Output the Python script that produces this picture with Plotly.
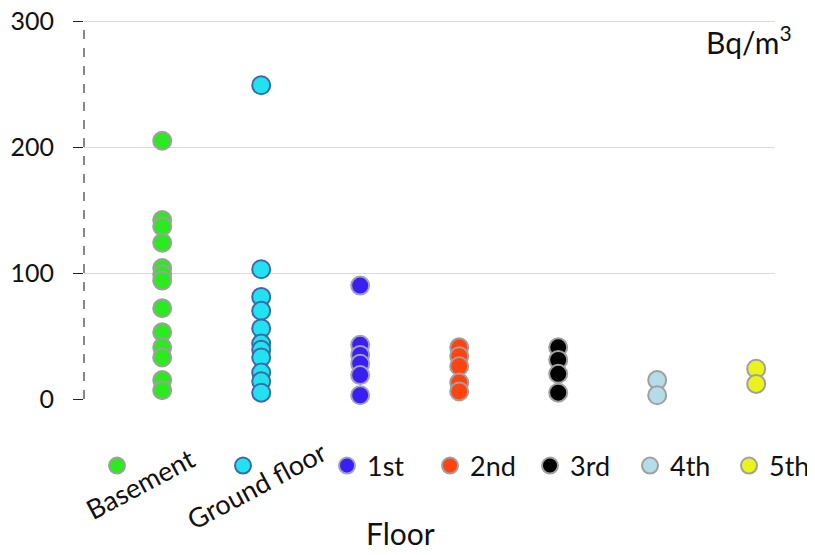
import plotly.graph_objects as go

# ---- data ----
floors = ["Basement", "Ground floor", "1st", "2nd", "3rd", "4th", "5th"]
basement = [205, 142, 137, 124, 104, 99, 94, 72, 53, 41, 33, 15, 7]
ground_floor = [249, 103, 81, 70, 56, 44, 39, 33, 21, 14, 5]
first = [90, 43, 35, 28, 19, 3]
second = [41, 34, 26, 13, 6]
third = [41, 31, 20, 5]
fourth = [15, 3]
fifth = [24, 12]
series = [basement, ground_floor, first, second, third, fourth, fifth]

fill_colors = ["#2bea1f", "#22e2f2", "#3a1ff2", "#ff4411", "#000000", "#b4dde9", "#eaf41a"]
line_colors = ["#a0a0a0", "#3b6aa8", "#a0a0b8", "#a0a0a0", "#a0a0a0", "#a0a0a0", "#a0a0a0"]

y_ticks = [0, 100, 200, 300]
unit_label = "Bq/m<sup>3</sup>"
x_title = "Floor"

FONT = "Lato, Roboto, sans-serif"

# ---- layout geometry (page pixels; the page body has an 8px margin) ----
OFF = 8
W, H = 815 - OFF, 555 - OFF
PLOT_L, PLOT_R, PLOT_T, PLOT_B = 84, 775, 20, 399   # page coords of plot area
ML, MT = PLOT_L - OFF, PLOT_T - OFF
MR, MB = W - (PLOT_R - OFF), H - (PLOT_B - OFF)
PW, PH = PLOT_R - PLOT_L, PLOT_B - PLOT_T

def px_x(px):
    return (px - PLOT_L) / PW

def px_y(py):
    return (PLOT_B - py) / PH

legend_marker_px = [117, 243, 350, 453, 553, 653, 752]
rotated = {"Basement": (140, 483), "Ground floor": (256, 485)}

fig = go.Figure()
layout_legends = {}
for i, (name, vals) in enumerate(zip(floors, series)):
    lname = "legend" if i == 0 else f"legend{i+1}"
    fig.add_trace(go.Scatter(
        x=[name] * len(vals), y=vals, mode="markers",
        name="" if name in rotated else name,
        legend=lname,
        cliponaxis=False,
        marker=dict(size=18, color=fill_colors[i],
                    line=dict(color=line_colors[i], width=2)),
    ))
    shift = 0 if name in rotated else 3
    layout_legends[lname] = dict(
        x=px_x(legend_marker_px[i] - 20 - shift), xanchor="left",
        y=px_y(466), yanchor="middle",
        orientation="h", bgcolor="rgba(0,0,0,0)",
        font=dict(family=FONT, size=27, color="#111"),
    )

annotations = []
for label, (cx, cy) in rotated.items():
    annotations.append(dict(
        text=label, x=px_x(cx), y=px_y(cy), xref="paper", yref="paper",
        showarrow=False, textangle=-28, xanchor="center", yanchor="middle",
        font=dict(family=FONT, size=27, color="#111"),
    ))
annotations.append(dict(
    text=unit_label, x=px_x(749), y=px_y(40), xref="paper", yref="paper",
    showarrow=False, xanchor="center", yanchor="middle",
    font=dict(family=FONT, size=30, color="#111"),
))
annotations.append(dict(
    text=x_title, x=px_x(400), y=px_y(533), xref="paper", yref="paper",
    showarrow=False, xanchor="center", yanchor="middle",
    font=dict(family=FONT, size=30, color="#111"),
))

fig.update_layout(
    width=W, height=H,
    margin=dict(l=ML, r=MR, t=MT, b=MB, autoexpand=False),
    paper_bgcolor="white", plot_bgcolor="white",
    showlegend=True,
    annotations=annotations,
    xaxis=dict(type="category", categoryorder="array", categoryarray=floors,
               range=[-0.79, 6.19], showticklabels=False, showgrid=False,
               zeroline=False, showline=False, ticks=""),
    yaxis=dict(range=[0, 300.8], tickvals=y_ticks, showgrid=True,
               gridcolor="#dadada", gridwidth=1, zeroline=False, showline=False,
               ticks="outside", ticklen=10, tickcolor="#222", tickwidth=1,
               ticklabelstandoff=14, ticklabeloverflow="allow",
               tickfont=dict(family=FONT, size=25, color="#111")),
    shapes=[dict(type="line", xref="x domain", yref="y", x0=0, x1=0, y0=0, y1=300,
                 line=dict(color="#111", width=1, dash="dash"), layer="above")],
    **layout_legends,
)

fig.write_html("out.html")
